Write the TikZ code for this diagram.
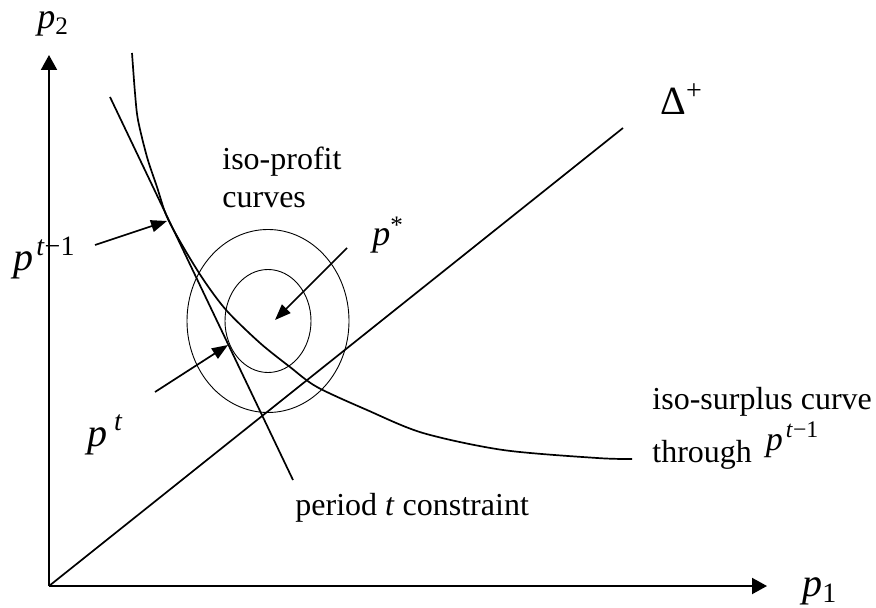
\documentclass[tikz,border=0pt]{standalone}
\usepackage{fontspec}
\setmainfont{Liberation Serif}
\usetikzlibrary{arrows.meta}
\newcommand{\pv}{\textit{p}}
\newcommand{\tmone}{\kern1.5pt\textsuperscript{\textit{t}−1}}

\begin{document}
\begin{tikzpicture}[
  x=0.5pt, y=-0.5pt,
  font=\fontsize{16}{19}\selectfont,
  axis/.style={-{Triangle[length=7.5pt,width=8pt]}, line width=1pt},
  ln/.style={line width=0.85pt},
  iso/.style={line width=0.45pt},
  arr/.style={-{Triangle[length=8pt,width=6pt]}, line width=0.85pt},
  lbl/.style={inner sep=0pt, anchor=base west},
  sym/.style={lbl, font=\fontsize{20}{24}\selectfont}
]
  \useasboundingbox (0,0) rectangle (876,608);

  %% axes
  \coordinate (o) at (49,586);
  \coordinate (ytip) at (49,55);
  \coordinate (xtip) at (767,586);
  \draw[axis] (o) -- (ytip);
  \draw[axis] (o) -- (xtip);
  \node[lbl, font=\fontsize{18}{21}\selectfont] (p2) at (37,29) {\pv\textsubscript{2}};
  \node[sym] (p1) at (802,596) {\pv\textsubscript{1}};

  %% diagonal
  \coordinate (dend) at (623,128);
  \draw[ln] (o) -- (dend);
  \node[sym] (delta) at (660,115) {Δ\textsuperscript{+}};

  %% iso-profit curves
  \coordinate (pstar) at (268,321);
  \draw[iso] (pstar) ellipse [x radius=81, y radius=91.5];
  \draw[iso] (pstar) ellipse [x radius=43, y radius=51.5];
  \node[lbl, align=left, anchor=north west] (profit) at (222,147) {iso-profit\\curves};

  %% period t constraint
  \coordinate (ctop) at (110,97);
  \coordinate (cbot) at (293,480);
  \draw[ln] (ctop) -- (cbot);
  \node[lbl] (constr) at (295,515) {period \textit{t} constraint};

  %% iso-surplus curve through p^{t-1}
  \draw[ln] plot[smooth, tension=0.5] coordinates {
    (132,53) (135,93) (138,120) (147,157) (157,187) (167,217) (185,250)
    (205,282) (227,311) (260,343) (290,367) (317,387) (367,410)
    (423,433) (503,450) (597,458) (632,459)};
  \node[lbl] (surplus) at (652,409) {iso-surplus curve};
  \node[lbl] (through) at (652,462) {through\hspace{7pt}\raisebox{6pt}{\fontsize{17}{20}\selectfont\pv\tmone}};

  %% pointers
  \coordinate (ptm) at (167,221);
  \coordinate (ptmtail) at (95,245);
  \draw[arr] (ptmtail) -- (ptm);
  \node[sym] (ptmlbl) at (13,271) {\pv\tmone};

  \coordinate (pt) at (228,345);
  \coordinate (pttail) at (155,392);
  \draw[arr] (pttail) -- (pt);
  \node[sym] (ptlbl) at (87,446) {\pv\,\textsuperscript{\textit{t}}};

  \coordinate (psttail) at (347,248);
  \draw[arr] (psttail) -- ([shift={(7,-1)}]pstar);
  \node[lbl, font=\fontsize{18}{21}\selectfont] (pstlbl) at (372,246) {\pv\textsuperscript{*}};
\end{tikzpicture}
\end{document}
